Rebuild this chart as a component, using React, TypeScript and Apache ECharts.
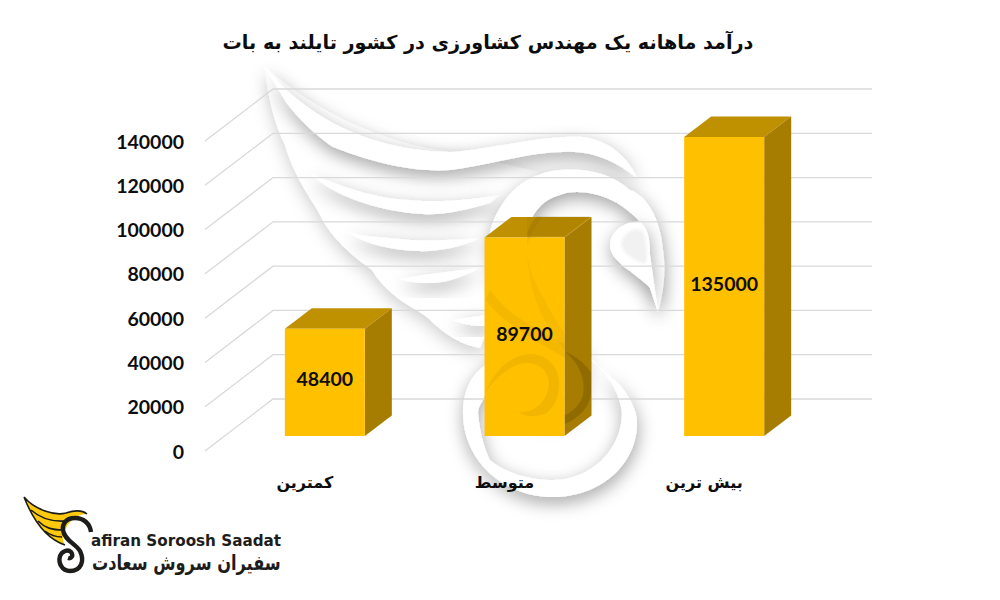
import React, { useEffect, useRef } from "react";
import * as echarts from "echarts";

const titleText = "درآمد ماهانه یک مهندس کشاورزی در کشور تایلند به بات";
const categories = ["کمترین", "متوسط", "بیش ترین"];
const values = [48400, 89700, 135000];
const gridTicks = [0, 20000, 40000, 60000, 80000, 100000, 120000, 140000];

const BACK_DX = 68, BACK_DY = 52, BACK_W = 599;
const BAR_DX = 20, BAR_DY = 15, BAR_W = 80, SIDE_DX = 27, SIDE_DY = 20.5;
const FA = "'DejaVu Sans', sans-serif";
const NUM = "Lato, 'Noto Sans', sans-serif";

const SHAPES: Record<string, string> = {
  wmBody: "M265,67 C268,105 278,130 285,145 C295,180 316,205 320,215 C335,245 362,262 372,270 C390,300 420,310 428,318 C445,335 462,345 480,348 L500,300 L490,253 L503,203 L540,172 L450,152 C383,143 317,113 265,67 Z",
  wmF1: "M265,67 C300,110 360,150 450,152 C490,150 540,135 583,137 C610,140 630,160 637,178 C615,160 590,150 563,152 C530,152 490,165 450,170 C423,172 383,167 333,147 C315,135 295,115 286,102 Z",
  wmF2: "M310,173 C335,185 380,200 410,200 C440,203 470,200 500,195 L490,203 C460,212 440,215 423,214 C383,212 333,197 310,173 Z",
  wmF3: "M348,232 C365,237 383,237 410,240 C430,241 455,240 480,238 C460,248 435,252 417,251 C395,250 365,245 348,232 Z",
  wmF4: "M400,279 C420,275 445,272 480,268 C460,278 445,283 430,283 C420,283 408,282 400,279 Z",
  wmF5: "M453,320 C465,318 475,316 490,315 L490,326 C478,326 465,326 453,320 Z",
  wmS: "M658,312 C664,290 666,270 663,250 C660,215 645,195 630,190 C610,172 583,168 560,170 C535,172 515,185 503,203 C490,222 487,240 490,253 C493,275 497,285 503,297 C515,318 535,328 550,333 C580,348 600,368 620,385 C632,400 637,412 637,423 C637,465 600,497 553,497 C505,497 463,462 463,413 C463,390 472,375 483,367 C492,355 500,347 507,343 C518,338 530,337 540,338 C553,338 562,340 567,343 C578,352 583,362 583,373 C583,395 575,408 567,413 C558,418 548,419 540,418 L530,415 C540,416 545,415 550,413 C556,405 559,392 559,380 C559,368 556,363 550,360 C540,354 528,353 517,357 C503,362 490,380 483,400 C480,405 478,408 478,413 C480,435 485,450 490,460 C505,473 530,480 553,480 C590,480 622,450 622,413 C620,395 610,378 600,368 C580,345 555,325 545,300 C532,280 527,262 527,247 C527,230 530,218 537,210 C543,202 552,197 560,195 C570,190 595,190 617,203 C628,210 635,216 640,222 C645,240 648,262 650,288 Z",
  wmHead: "M640,222 C625,220 610,232 610,245 C610,262 635,272 650,288 L658,312 L650,255 C650,240 648,228 640,222 Z",
  wmEye: "M623,243 C625,235 632,230 640,231 C645,235 645,250 645,263 C635,258 623,253 623,243 Z",
  lgWing: "M24,497 C35,510 55,516 66,513 C75,510 82,510 87,514 C78,514 70,520 66,528 C62,535 62,540 65,545 C50,540 35,525 24,497 Z",
  lgFeathers: "M31,510 C40,518 52,522 66,521 M38,521 C45,528 52,530 63,530 M45,531 C50,535 56,537 62,537 M24,497 C35,510 55,516 66,513 C75,510 82,510 87,514 M65,545 C50,540 35,525 24,497",
  lgS: "M91,532 C90,524 84,518 75,518 C66,518 62,524 63,530 C64,540 76,544 80,551 C85,561 81,571 70,571 C62,571 58,563 60,556 C62,551 68,549 71,552 C74,556 71,559 68,558",
  ovNeck: "M527,217 L542,217 C534,228 530,237 527,247 C527,262 532,280 545,300 C552,316 560,325 565,334 L565,350 C548,330 528,300 527,247 Z",
  ovNeckTop: "M537,216 L591,216 L565,236 L527,236 C528,228 532,222 537,216 Z",
  ovCurl: "M485,393 C495,370 510,355 530,354 C548,354 558,368 559,380 C560,395 555,408 545,414 C530,418 525,416 518,412 C535,414 548,400 549,384 C549,372 540,362 525,363 C510,365 495,378 485,393 Z",
  ovSide: "M565,352 C578,362 586,378 583,395 C580,405 572,412 565,415 L565,424 C580,418 591,405 591,392 L591,372 C583,362 575,355 565,352 Z",
  ovBand: "M485,300 C505,325 535,340 565,358 L565,344 C540,330 510,318 490,290 Z",
};
Object.keys(SHAPES).forEach((k) => {
  echarts.graphic.registerShape(k, (echarts.graphic as any).extendPath(SHAPES[k], {}));
});

const soft = { fill: "#fff", shadowColor: "rgba(0,0,0,0.36)", shadowBlur: 17, shadowOffsetX: 1, shadowOffsetY: 6 };

export default function App() {
  const ref = useRef<HTMLDivElement>(null);
  useEffect(() => {
    const chart = echarts.init(ref.current!, undefined, { renderer: "svg" });
    chart.setOption({
      animation: false,
      backgroundColor: "#fff",
      title: {
        text: titleText, left: 483, top: 28, textAlign: "center",
        textStyle: { fontFamily: FA, fontSize: 19.2, fontWeight: "bold", color: "#0d0d0d" },
      },
      grid: { left: 205, top: 141, width: BACK_W, height: 310 },
      xAxis: {
        type: "category", data: categories,
        axisLine: { show: false }, axisTick: { show: false },
        axisLabel: { margin: 23, fontFamily: FA, fontSize: 16, fontWeight: "bold", color: "#0d0d0d" },
      },
      yAxis: {
        type: "value", min: 0, max: 140000, interval: 20000,
        axisLine: { show: false }, axisTick: { show: false }, splitLine: { show: false },
        axisLabel: { margin: 21, fontFamily: NUM, fontSize: 19.5, fontWeight: "bold", color: "#0d0d0d", formatter: (v: number) => String(v) },
      },
      graphic: [
        { type: "wmBody", style: { ...soft, shadowColor: "rgba(0,0,0,0.2)" } },
        { type: "wmF1", style: soft },
        { type: "wmF2", style: soft },
        { type: "wmF3", style: soft },
        { type: "wmF4", style: soft },
        { type: "wmF5", style: soft },
        { type: "wmS", style: soft },
        { type: "wmHead", style: soft },
        { type: "wmEye", style: { fill: "#f1f1f1", shadowColor: "rgba(0,0,0,0.12)", shadowBlur: 4 } },
        { type: "lgWing", style: { fill: "#FFC90E" } },
        { type: "lgFeathers", style: { fill: "none", stroke: "#1d1d1b", lineWidth: 1.6 } },
        { type: "lgS", style: { fill: "none", stroke: "#1d1d1b", lineWidth: 4.4 } },
        { type: "text", x: 91, y: 541, style: { text: "afiran Soroosh Saadat", font: `bold 15.2px ${FA}`, fill: "#1d1d1b", textVerticalAlign: "middle" } },
        { type: "text", x: 92, y: 563, scaleX: 0.77, style: { text: "سفیران سروش سعادت", font: `bold 21px ${FA}`, fill: "#1d1d1b", textVerticalAlign: "middle" } },
      ],
      series: [
        {
          type: "custom", z: 2, silent: true,
          encode: { x: 0, y: 1 },
          data: gridTicks.map((t) => [0, t]),
          renderItem: (params: any, api: any) => {
            const y = api.coord([0, api.value(1)])[1];
            const x0 = params.coordSys.x;
            return {
              type: "polyline",
              shape: { points: [[x0, y], [x0 + BACK_DX, y - BACK_DY], [x0 + BACK_DX + BACK_W, y - BACK_DY]] },
              style: { fill: "none", stroke: "#d9d9d9", lineWidth: 1.3 },
            };
          },
        },
        {
          type: "custom", z: 3, silent: true,
          encode: { x: 0, y: 1 },
          data: values.map((v, i) => [i, v]),
          renderItem: (params: any, api: any) => {
            const i = params.dataIndex;
            const v = api.value(1);
            const top = api.coord([i, v]);
            const base = api.coord([i, 0]);
            const l = top[0] + BAR_DX - BAR_W / 2, r = l + BAR_W;
            const t = top[1] - BAR_DY, b = base[1] - BAR_DY;
            return {
              type: "group",
              children: [
                { type: "polygon", shape: { points: [[l, t], [r, t], [r + SIDE_DX, t - SIDE_DY], [l + SIDE_DX, t - SIDE_DY]] }, style: { fill: "#BF9000" } },
                { type: "polygon", shape: { points: [[r, t], [r + SIDE_DX, t - SIDE_DY], [r + SIDE_DX, b - SIDE_DY], [r, b]] }, style: { fill: "#A67D00" } },
                { type: "rect", shape: { x: l, y: t, width: BAR_W, height: b - t }, style: { fill: "#FFC000" } },
              ],
            };
          },
        },
        {
          type: "custom", z: 4, silent: true,
          encode: { x: 0, y: 1 },
          data: [[1, 89700]],
          renderItem: () => ({
            type: "group",
            children: [
              { type: "ovNeckTop", style: { fill: "rgba(0,0,0,0.07)" } },
              { type: "ovNeck", style: { fill: "rgba(0,0,0,0.03)" } },
              { type: "ovCurl", style: { fill: "rgba(0,0,0,0.05)" } },
              { type: "ovSide", style: { fill: "rgba(0,0,0,0.13)" } },
              { type: "ovBand", style: { fill: "rgba(0,0,0,0.04)" } },
            ],
          }),
        },
        {
          type: "custom", z: 5, silent: true,
          encode: { x: 0, y: 1 },
          data: values.map((v, i) => [i, v]),
          renderItem: (params: any, api: any) => {
            const i = params.dataIndex;
            const v = api.value(1);
            const top = api.coord([i, v]);
            const base = api.coord([i, 0]);
            return {
              type: "text",
              style: {
                x: top[0] + BAR_DX, y: (top[1] + base[1]) / 2 - BAR_DY - 3.5,
                text: String(v), align: "center", verticalAlign: "middle",
                font: `bold 19.5px ${NUM}`, fill: "#0d0d0d",
              },
            };
          },
        },
      ],
    });
    return () => chart.dispose();
  }, []);
  return <div ref={ref} style={{ position: "absolute", left: 0, top: 0, width: 1000, height: 600 }} />;
}
